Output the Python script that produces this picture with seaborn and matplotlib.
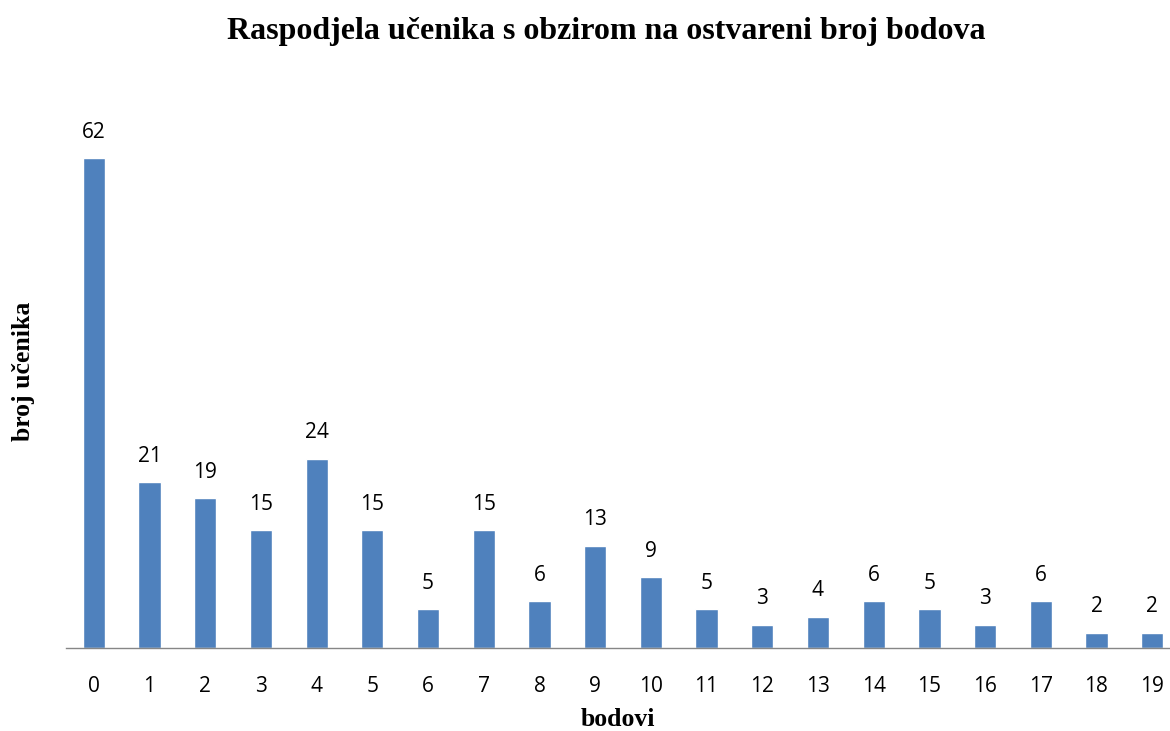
import numpy as np
import pandas as pd
import matplotlib
matplotlib.use('Agg')
import matplotlib.pyplot as plt
import seaborn as sns

# bodovi i broj učenika
bodovi = [str(i) for i in range(20)]
broj_ucenika = [62, 21, 19, 15, 24, 15, 5, 15, 6, 13, 9, 5, 3, 4, 6, 5, 3, 6, 2, 2]

df = pd.DataFrame({'bodovi': bodovi, 'broj': broj_ucenika})

sns.set_style('white')
plt.rcParams['font.family'] = ['Open Sans', 'DejaVu Sans']
plt.rcParams['text.color'] = 'black'
plt.rcParams['axes.labelcolor'] = 'black'
plt.rcParams['xtick.color'] = 'black'

fig = plt.figure(figsize=(11.7, 7.31), dpi=100)
ax = fig.add_axes([0.0564, 0.113, 0.9436, 0.757])

sns.barplot(data=df, x='bodovi', y='broj', color='#4F81BD', width=0.4,
            saturation=1, ax=ax)

for i, v in enumerate(broj_ucenika):
    ax.annotate(str(v), (i, v), xytext=(0, 11), textcoords='offset points',
                ha='center', va='bottom', fontsize=15)

ax.set_xlim(-0.5, 19.32)
ax.set_ylim(0, 70)
ax.set_yticks([])
for s in ['top', 'right', 'left']:
    ax.spines[s].set_visible(False)
ax.spines['bottom'].set_color('#868686')
ax.spines['bottom'].set_linewidth(1)
ax.tick_params(axis='x', length=0, labelsize=15, pad=20)

ax.set_xlabel('bodovi', fontsize=18.5, fontweight='bold',
              family='Liberation Serif', labelpad=8)
ax.set_ylabel('broj učenika', fontsize=18.5, fontweight='bold',
              family='Liberation Serif', labelpad=22)
fig.text(0.518, 0.957, 'Raspodjela učenika s obzirom na ostvareni broj bodova',
         ha='center', va='center', fontsize=23, fontweight='bold',
         family='Liberation Serif')

fig.savefig('out.png', dpi=100)
plt.close(fig)
